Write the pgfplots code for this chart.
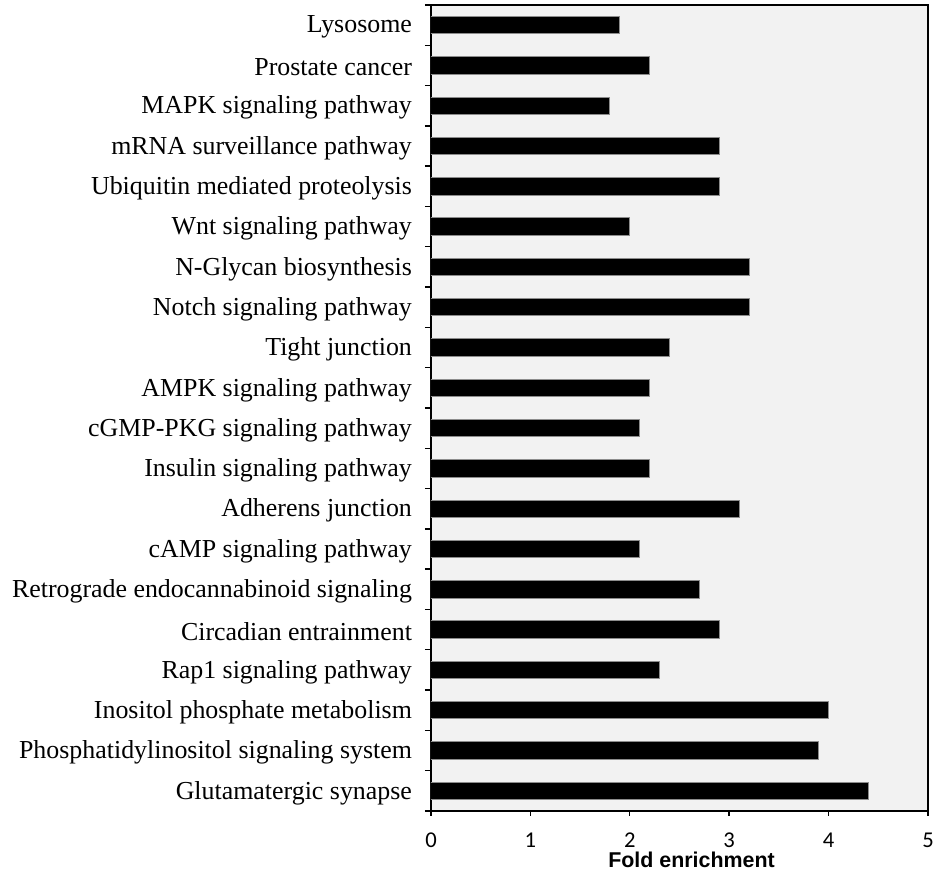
\documentclass[border=0pt]{standalone}
\usepackage{fontspec}
\setmainfont{Liberation Serif}
\newfontfamily\carlito{Carlito}
\newfontfamily\arialfont{Liberation Sans}
\usepackage{pgfplots}
\pgfplotsset{compat=1.18}
\definecolor{bg}{HTML}{F2F2F2}
\begin{document}
\begin{tikzpicture}
\useasboundingbox (-215.5pt,-31pt) rectangle (251.5pt,405.5pt);
\begin{axis}[
  at={(0,0)}, anchor=south west,
  width=248.5pt, height=403pt, scale only axis,
  xmin=0, xmax=5, ymin=-0.5, ymax=19.5,
  xtick={0,1,2,3,4,5},
  ytick={0,...,19},
  yticklabels={Glutamatergic synapse,Phosphatidylinositol signaling system,Inositol phosphate metabolism,Rap1 signaling pathway,Circadian entrainment,Retrograde endocannabinoid signaling,cAMP signaling pathway,Adherens junction,Insulin signaling pathway,cGMP-PKG signaling pathway,AMPK signaling pathway,Tight junction,Notch signaling pathway,N-Glycan biosynthesis,Wnt signaling pathway,Ubiquitin mediated proteolysis,mRNA surveillance pathway,MAPK signaling pathway,Prostate cancer,Lysosome},
  minor ytick={-0.5,0.5,...,19.5},
  xtick pos=bottom, ytick pos=left,
  tick align=outside,
  major tick length=2.5pt,
  minor tick length=3pt,
  major y tick style={draw=none},
  tick style={black, line width=0.7pt},
  axis line style={black, line width=0.8pt},
  axis background/.style={fill=bg},
  yticklabel style={font=\fontsize{12.95}{15}\selectfont, anchor=east, xshift=-3.5pt, yshift=-1pt},
  xticklabel style={font=\carlito\fontsize{11.3}{13}\selectfont, /pgf/number format/assume math mode=true, yshift=-5pt},
  xlabel={\arialfont\bfseries\fontsize{10.7}{12}\selectfont Fold enrichment},
  xlabel style={at={(axis description cs:0.5,0)}, anchor=base, yshift=-28.5pt, xshift=6pt},
]
\addplot[xbar, fill=black, draw=black!45, line width=0.5pt, bar width=0.43] coordinates {
  (4.4,0) (3.9,1) (4.0,2) (2.3,3) (2.9,4) (2.7,5) (2.1,6) (3.1,7) (2.2,8) (2.1,9)
  (2.2,10) (2.4,11) (3.2,12) (3.2,13) (2.0,14) (2.9,15) (2.9,16) (1.8,17) (2.2,18) (1.9,19)
};
\end{axis}
\end{tikzpicture}
\end{document}
